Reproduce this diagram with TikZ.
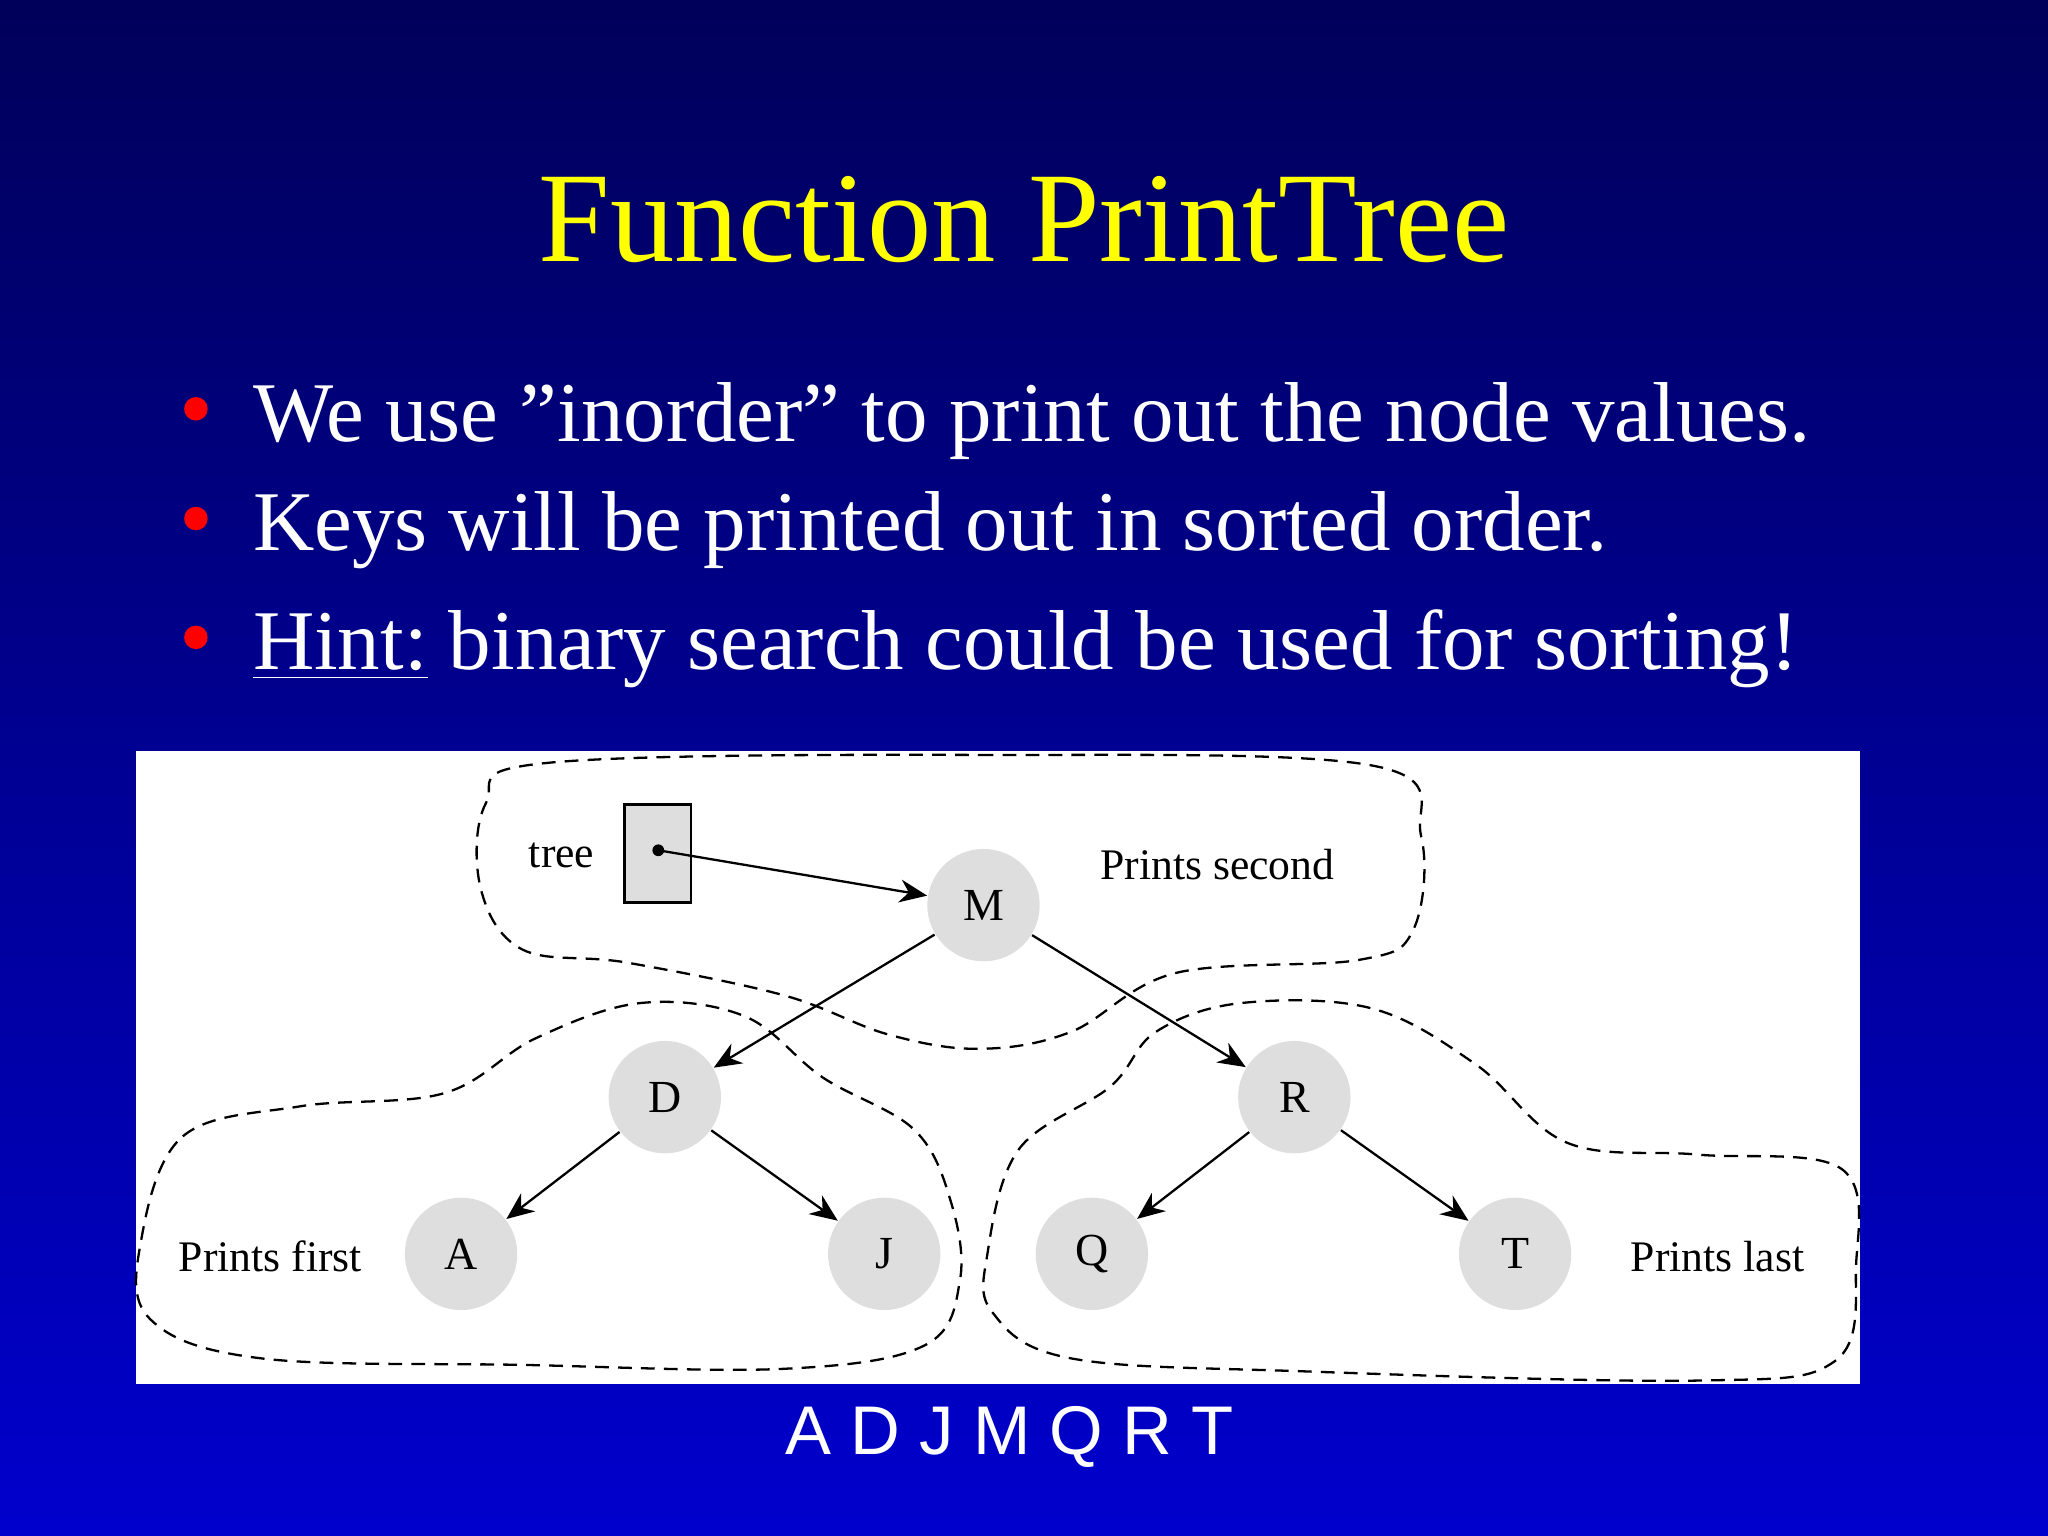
\documentclass[tikz,border=0pt]{standalone}
\usepackage{fontspec}
\setmainfont{Liberation Serif}
\newfontfamily\arialf{Liberation Sans}
\usetikzlibrary{arrows.meta}
\begin{document}
\begin{tikzpicture}[x=0.01cm,y=-0.01cm,
  tnode/.style={circle,fill=black!13,minimum size=0.86cm,inner sep=0pt,font=\fontsize{10}{12}\selectfont},
  lbl/.style={font=\fontsize{9.5}{12}\selectfont,inner sep=0pt},
  edge/.style={-{Stealth[length=6pt,width=5pt]},line width=0.5pt},
  blob/.style={dashed,line width=0.5pt,dash pattern=on 3pt off 2pt},
  bul/.style={anchor=west,text=white,font=\fontsize{18.5}{22}\selectfont,inner sep=0pt}]
\useasboundingbox (0,0) rectangle (1568,1176);
\shade[top color={rgb,255:red,0;green,0;blue,90}, bottom color={rgb,255:red,0;green,0;blue,205}] (0,0) rectangle (1568,1176);
\node[text={rgb,255:red,255;green,255;blue,0},font=\fontsize{28}{34}\selectfont] (title) at (784,168) {Function PrintTree};
\foreach \y/\n in {313/b1,397/b2,488/b3}{\fill[red] (150,\y) circle (9);}
\node[bul] (t1) at (193,322) {We use "inorder" to print out the node values.};
\node[bul] (t2) at (193,406) {Keys will be printed out in sorted order.};
\node[bul] (t3) at (193,497) {\underline{Hint:} binary search could be used for sorting!};
\fill[white] (104,575) rectangle (1424,1060);
% blobs
\draw[blob] plot[smooth cycle,tension=0.6] coordinates {(420,584) (750,578) (1050,586) (1088,640) (1082,712) (1040,735) (900,745) (820,790) (750,803) (680,792) (600,762) (480,737) (400,727) (368,680) (372,615)};
\draw[blob] plot[smooth cycle,tension=0.6] coordinates {(108,950) (140,870) (230,847) (340,837) (410,795) (490,768) (570,778) (630,825) (700,865) (728,920) (735,980) (708,1030) (600,1048) (400,1045) (200,1040) (115,1010)};
\draw[blob] plot[smooth cycle,tension=0.6] coordinates {(756,960) (780,880) (850,832) (885,790) (950,768) (1050,772) (1130,815) (1200,875) (1300,884) (1410,895) (1421,970) (1405,1042) (1300,1057) (1000,1050) (820,1040) (760,1005)};
% tree pointer
\draw[fill=black!13,line width=0.6pt] (478,616) rectangle (529,691);
\fill (504,651) circle (4.5);
\coordinate (dot) at (504,651);
\node[tnode] (M) at (753,693) {M};
\node[tnode] (D) at (509,840) {D};
\node[tnode] (R) at (991,840) {R};
\node[tnode] (A) at (353,960) {A};
\node[tnode] (J) at (677,960) {J};
\node[tnode] (Q) at (836,960) {Q};
\node[tnode] (T) at (1160,960) {T};
\draw[edge] (dot) -- (M);
\draw[edge] (M) -- (D);
\draw[edge] (M) -- (R);
\draw[edge] (D) -- (A);
\draw[edge] (D) -- (J);
\draw[edge] (R) -- (Q);
\draw[edge] (R) -- (T);
\node[lbl] (ltree) at (430,655) {tree};
\node[lbl] (lsec) at (932,662) {Prints second};
\node[lbl] (lfirst) at (207,962) {Prints first};
\node[lbl] (llast) at (1315,962) {Prints last};
\node[text=white,font=\arialf\fontsize{15}{18}\selectfont] (order) at (773,1100) {A D J M Q R T};
\end{tikzpicture}
\end{document}
